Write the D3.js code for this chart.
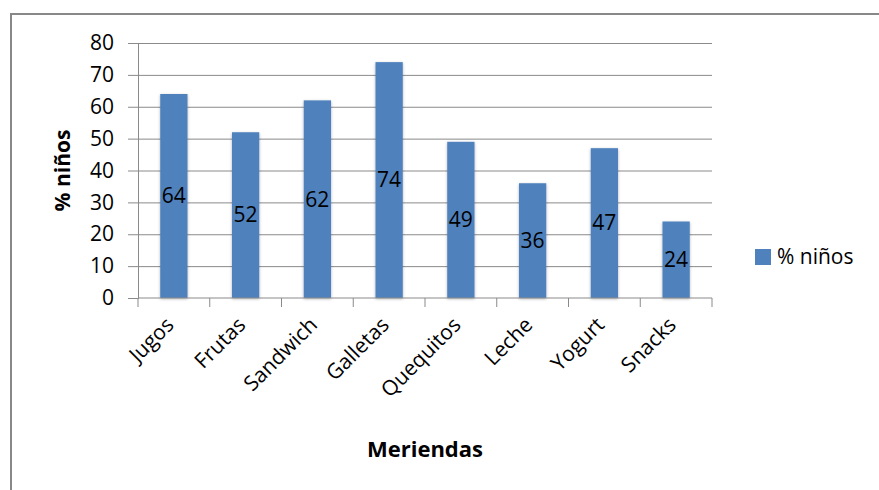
<!DOCTYPE html>
<html>
<head>
<meta charset="utf-8">
<script src="https://cdn.jsdelivr.net/npm/d3@7"></script>
<style>
  body { margin: 0; background: #fff; }
  text { font-family: 'Open Sans', 'Liberation Sans', sans-serif; fill: #000; }
  .grid line { stroke: #8a8a8a; stroke-width: 1; }
  .grid .domain { display: none; }
  .axis .domain, .axis line { stroke: #8a8a8a; }
</style>
</head>
<body>
<svg id="chart"></svg>
<script>
const categories = ['Jugos', 'Frutas', 'Sandwich', 'Galletas', 'Quequitos', 'Leche', 'Yogurt', 'Snacks']
const values = [64, 52, 62, 74, 49, 36, 47, 24]
const yTicks = [0, 10, 20, 30, 40, 50, 60, 70, 80]
const seriesName = '% niños'

const W = 879, H = 490
const plot = { left: 138, right: 712, top: 43, bottom: 298 }

const svg = d3.select('#chart').attr('width', W).attr('height', H)

const defs = svg.append('defs')
const filt = defs.append('filter').attr('id', 'shadow')
  .attr('x', '-30%').attr('y', '-10%').attr('width', '160%').attr('height', '120%')
filt.append('feDropShadow').attr('dx', 0).attr('dy', 1).attr('stdDeviation', 1.5)
  .attr('flood-color', '#000').attr('flood-opacity', 0.3)

// outer frame
svg.append('rect')
  .attr('x', 11).attr('y', 14).attr('width', W + 20).attr('height', H + 20)
  .attr('fill', 'none').attr('stroke', '#888').attr('stroke-width', 2)

const x = d3.scaleBand()
  .domain(categories)
  .range([plot.left, plot.right])
  .paddingInner(0.62).paddingOuter(0.31)

const y = d3.scaleLinear()
  .domain([0, 80])
  .range([plot.bottom, plot.top])

// gridlines
svg.append('g')
  .attr('class', 'grid')
  .attr('transform', `translate(${plot.left},0)`)
  .call(d3.axisLeft(y).tickValues(yTicks.slice(1)).tickSize(-(plot.right - plot.left)).tickFormat(''))

// y axis
const yAxis = svg.append('g')
  .attr('class', 'axis')
  .attr('transform', `translate(${plot.left},0)`)
  .call(d3.axisLeft(y).tickValues(yTicks).tickSize(10).tickPadding(14))
yAxis.selectAll('text').style('font-size', '21px')

// bars
svg.append('g').selectAll('rect')
  .data(values)
  .join('rect')
  .attr('x', (d, i) => x(categories[i]))
  .attr('y', d => y(d))
  .attr('width', x.bandwidth())
  .attr('height', d => y(0) - y(d))
  .attr('fill', '#4f81bd')
  .attr('filter', 'url(#shadow)')

// x axis
const xStep = (plot.right - plot.left) / categories.length
const xAxis = svg.append('g')
  .attr('class', 'axis')
  .attr('transform', `translate(0,${plot.bottom})`)
xAxis.append('line')
  .attr('x1', plot.left).attr('x2', plot.right)
  .attr('stroke', '#8a8a8a')
xAxis.selectAll('.tk')
  .data(d3.range(categories.length + 1))
  .join('line')
  .attr('x1', i => plot.left + i * xStep).attr('x2', i => plot.left + i * xStep)
  .attr('y1', 0).attr('y2', 9)
  .attr('stroke', '#8a8a8a')
xAxis.selectAll('text')
  .data(categories)
  .join('text')
  .attr('transform', d => `translate(${x(d) + x.bandwidth() / 2 - 4},${23}) rotate(-45)`)
  .attr('text-anchor', 'end')
  .attr('dy', '0.35em')
  .style('font-size', '21px')
  .text(d => d)

// data labels
svg.append('g').selectAll('text')
  .data(values)
  .join('text')
  .attr('x', (d, i) => x(categories[i]) + x.bandwidth() / 2)
  .attr('y', d => (y(d) + y(0)) / 2)
  .attr('text-anchor', 'middle')
  .attr('dy', '0.35em')
  .style('font-size', '21px')
  .text(d => d)

// axis titles
svg.append('text')
  .attr('transform', `translate(70,${(plot.top + plot.bottom) / 2}) rotate(-90)`)
  .attr('text-anchor', 'middle')
  .style('font-size', '21px').style('font-weight', 'bold')
  .text(seriesName)

svg.append('text')
  .attr('x', 425).attr('y', 457)
  .attr('text-anchor', 'middle')
  .style('font-size', '22px').style('font-weight', 'bold')
  .text('Meriendas')

// legend
const legend = svg.append('g').attr('transform', 'translate(755,249)')
legend.append('rect').attr('width', 16).attr('height', 16).attr('fill', '#4f81bd')
legend.append('text').attr('x', 22).attr('y', 8).attr('dy', '0.35em')
  .style('font-size', '21px').text(seriesName)
</script>
</body>
</html>
